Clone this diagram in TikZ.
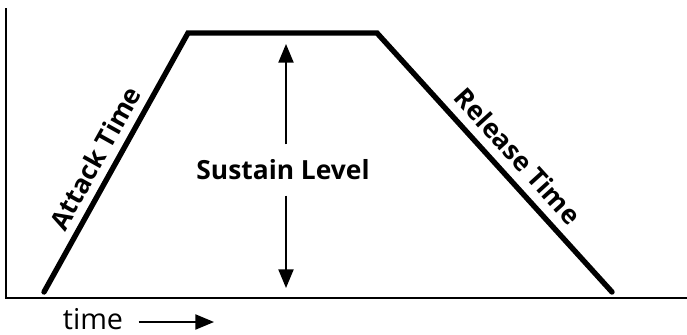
\documentclass[tikz,border=0pt]{standalone}
\usepackage{fontspec}
\setmainfont{Open Sans}
\usetikzlibrary{arrows.meta}

\tikzset{
  axis/.style={line width=2.4pt},
  envelope/.style={line width=4.6pt, line cap=round, line join=miter},
  level/.style={line width=1.4pt, -{Triangle[length=16pt,width=13pt]}},
  label/.style={font=\fontsize{22.5}{26}\selectfont\bfseries, inner sep=0pt}
}

\begin{document}
\begin{tikzpicture}[x=0.03cm,y=-0.03cm]
  \useasboundingbox (0,0) rectangle (687,335);
  % axes
  \coordinate (o) at (6,298);
  \coordinate (ytop) at (6,8);
  \coordinate (xend) at (687,298);
  \draw[axis] (ytop) -- (o) -- (xend);
  % envelope
  \coordinate (start) at (44,292);
  \coordinate (peak) at (188,33);
  \coordinate (hold) at (377,33);
  \coordinate (stop) at (612,292);
  \draw[envelope] (start) -- (peak) -- (hold) -- (stop);
  % labels
  \node[label, rotate=60.9] (attack) at (95,158) {Attack Time};
  \node[label, rotate=-47.8] (release) at (518,156) {Release Time};
  \node[label] (sustain) at (283,170) {Sustain Level};
  \coordinate (suptop) at (286,44);
  \coordinate (supbot) at (286,288);
  \draw[level] ([yshift=13pt]sustain.north -| suptop) -- (suptop);
  \draw[level] ([yshift=-13pt]sustain.south -| supbot) -- (supbot);
  % time axis
  \node[font=\fontsize{24.5}{28}\selectfont, inner sep=0pt] (time) at (93,319) {time};
  \coordinate (timeend) at (214,322);
  \draw[level] ([xshift=13pt]time.east |- timeend) -- (timeend);
\end{tikzpicture}
\end{document}
